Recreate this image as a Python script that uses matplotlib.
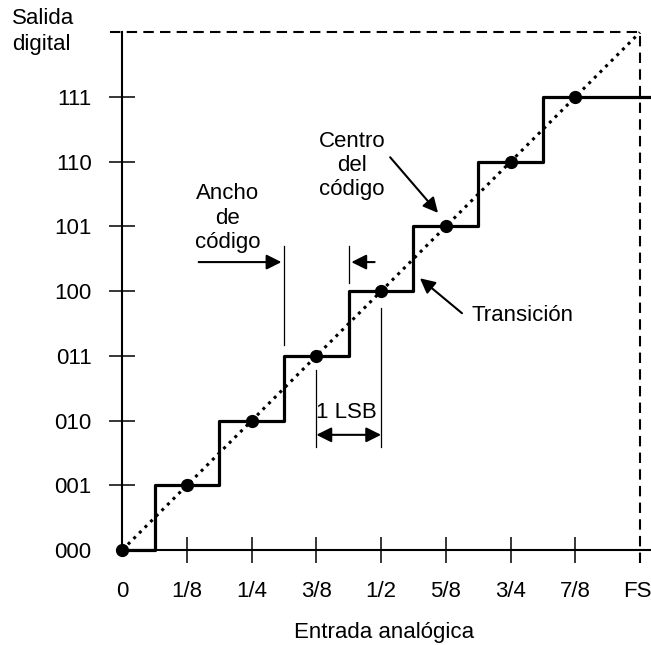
import matplotlib
matplotlib.use("Agg")
import matplotlib.pyplot as plt
from matplotlib.transforms import ScaledTranslation

plt.rcParams['font.family'] = ['Liberation Sans', 'DejaVu Sans']

# ==== datos (entrada en octavos de FS, salida en códigos) ====
x_ticklabels = ["0", "1/8", "1/4", "3/8", "1/2", "5/8", "3/4", "7/8", "FS"]
y_ticklabels = ["000", "001", "010", "011", "100", "101", "110", "111"]
transiciones = [0.5, 1.5, 2.5, 3.5, 4.5, 5.5, 6.5]
codigos = [0, 1, 2, 3, 4, 5, 6, 7]
centros = [0, 1, 2, 3, 4, 5, 6, 7]
fs = 8

W, H = 651, 645
x0_px, y0_px, paso = 122.3, 550, 64.7
xmax = (W - x0_px) / paso
fsz = 16

fig = plt.figure(figsize=(W / 100, H / 100), dpi=100)
ax = fig.add_axes([x0_px / W, (H - y0_px) / H, (W - x0_px) / W, fs * paso / H])
ax.set_xlim(0, xmax)
ax.set_ylim(0, fs)

for s in ["top", "right"]:
    ax.spines[s].set_visible(False)
for s in ["left", "bottom"]:
    ax.spines[s].set_linewidth(1.5)

ax.set_xticks(range(len(x_ticklabels)))
ax.set_xticklabels(x_ticklabels)
ax.set_yticks(range(len(y_ticklabels)))
ax.set_yticklabels(y_ticklabels)
ax.tick_params(direction="inout", length=19, width=1.1, labelsize=fsz, color="black")
ax.tick_params(axis="x", pad=13)
ax.tick_params(axis="y", pad=12.5)
ax.xaxis.get_major_ticks()[0].tick1line.set_visible(False)
ax.xaxis.get_major_ticks()[-1].tick1line.set_visible(False)
ax.yaxis.get_major_ticks()[0].tick1line.set_visible(False)
# FS un poco a la izquierda para que no se corte
lab = ax.get_xticklabels()[-1]
lab.set_transform(lab.get_transform() + ScaledTranslation(-3 / 100, 0, fig.dpi_scale_trans))

# líneas de fondo de escala
ax.plot([-0.19, fs], [fs, fs], color="black", lw=1.5, dashes=(5, 3), clip_on=False)
ax.plot([fs, fs], [-0.2, fs], color="black", lw=1.5, dashes=(5, 3), clip_on=False)

# recta ideal
ax.plot([0, fs], [0, fs], color="black", lw=2.2, dashes=(1, 1.6), clip_on=False)

# escalera
xs = [0] + transiciones + [xmax]
ys = codigos + [codigos[-1]]
ax.step(xs, ys, where="post", color="black", lw=2.3, clip_on=False, zorder=3)

# centros de código
ax.plot(centros, codigos, "o", color="black", ms=8.5, clip_on=False, zorder=4)

fl = dict(arrowstyle="-|>,head_length=0.9,head_width=0.45", color="black", lw=1.5,
          shrinkA=0, shrinkB=0)
fl2 = dict(arrowstyle="<|-|>,head_length=0.9,head_width=0.45", color="black", lw=1.5,
           shrinkA=0, shrinkB=0)

# ancho de código
ax.text(1.63, 5.13, "Ancho\nde\ncódigo", ha="center", va="center", fontsize=fsz,
        linespacing=1.2)
ax.plot([2.5, 2.5], [3.17, 4.70], color="black", lw=0.9)
ax.plot([3.5, 3.5], [4.13, 4.70], color="black", lw=0.9)
ax.annotate("", xy=(2.46, 4.45), xytext=(1.18, 4.45), arrowprops=fl)
ax.annotate("", xy=(3.54, 4.45), xytext=(3.9, 4.45), arrowprops=fl)

# 1 LSB
ax.plot([3, 3], [1.59, 2.78], color="black", lw=0.9)
ax.plot([4, 4], [1.59, 3.74], color="black", lw=0.9)
ax.annotate("", xy=(4, 1.78), xytext=(3, 1.78), arrowprops=fl2)
ax.text(3.47, 2.13, "1 LSB", ha="center", va="center", fontsize=fsz)

# centro del código
ax.text(3.55, 5.94, "Centro\ndel\ncódigo", ha="center", va="center", fontsize=fsz,
        linespacing=1.2)
ax.annotate("", xy=(4.88, 5.21), xytext=(4.14, 6.07), arrowprops=fl)

# transición
ax.text(5.40, 3.63, "Transición", ha="left", va="center", fontsize=fsz)
ax.annotate("", xy=(4.60, 4.20), xytext=(5.25, 3.66), arrowprops=fl)

ax.text(4.04, -1.27, "Entrada analógica", ha="center", va="center", fontsize=fsz)
fig.text(12 / W, 1 - 8 / H, "Salida\ndigital", ha="left", va="top", fontsize=fsz,
         linespacing=1.3)

fig.savefig("out.png", dpi=100)
